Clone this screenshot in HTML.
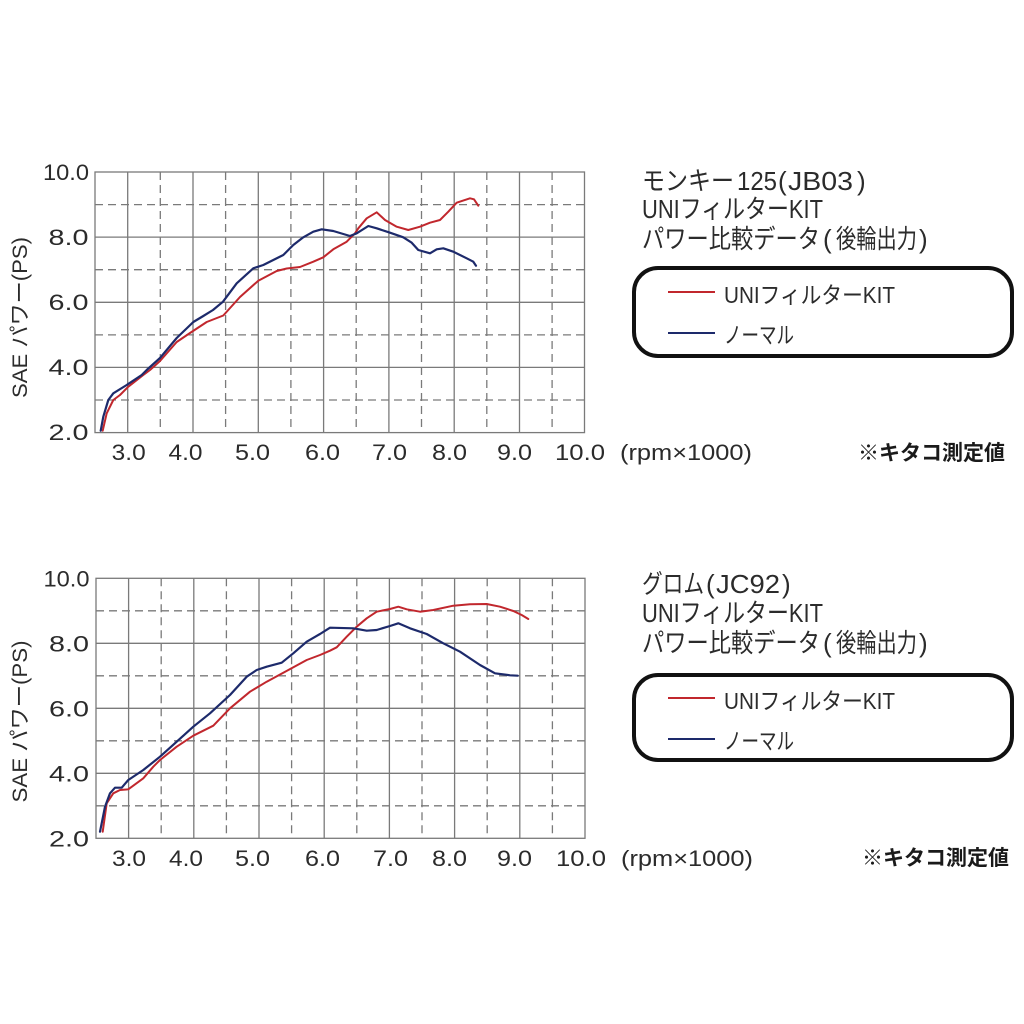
<!DOCTYPE html>
<html><head><meta charset="utf-8"><style>
html,body{margin:0;padding:0;background:#fff;}
svg{display:block;}
text{font-family:"Liberation Sans","Noto Sans CJK JP",sans-serif;fill:#2b2b2b;}
</style></head><body>
<svg width="1024" height="1024" viewBox="0 0 1024 1024" xmlns="http://www.w3.org/2000/svg">
<rect width="1024" height="1024" fill="#fff"/>

<!-- ===== TOP CHART ===== -->
<g stroke="#7a7a7a" stroke-width="1.3" fill="none">
  <g stroke-dasharray="8,5">
    <line x1="160.3" y1="172" x2="160.3" y2="432.6"/>
    <line x1="225.6" y1="172" x2="225.6" y2="432.6"/>
    <line x1="290.9" y1="172" x2="290.9" y2="432.6"/>
    <line x1="356.2" y1="172" x2="356.2" y2="432.6"/>
    <line x1="421.5" y1="172" x2="421.5" y2="432.6"/>
    <line x1="486.8" y1="172" x2="486.8" y2="432.6"/>
    <line x1="552.1" y1="172" x2="552.1" y2="432.6"/>
    <line x1="95" y1="204.6" x2="584.5" y2="204.6"/>
    <line x1="95" y1="269.7" x2="584.5" y2="269.7"/>
    <line x1="95" y1="334.9" x2="584.5" y2="334.9"/>
    <line x1="95" y1="400" x2="584.5" y2="400"/>
  </g>
  <line x1="127.7" y1="172" x2="127.7" y2="432.6"/>
  <line x1="193" y1="172" x2="193" y2="432.6"/>
  <line x1="258.3" y1="172" x2="258.3" y2="432.6"/>
  <line x1="323.6" y1="172" x2="323.6" y2="432.6"/>
  <line x1="388.9" y1="172" x2="388.9" y2="432.6"/>
  <line x1="454.2" y1="172" x2="454.2" y2="432.6"/>
  <line x1="519.5" y1="172" x2="519.5" y2="432.6"/>
  <line x1="95" y1="237.1" x2="584.5" y2="237.1"/>
  <line x1="95" y1="302.3" x2="584.5" y2="302.3"/>
  <line x1="95" y1="367.4" x2="584.5" y2="367.4"/>
  <rect x="95" y="172" width="489.5" height="260.6"/>
</g>
<polyline fill="none" stroke="#c1272d" stroke-width="2" stroke-linejoin="round" stroke-linecap="round" points="102.7,430.7 106.7,413.3 113.3,400 120,395 128.3,386.7 143.3,375 150,370 160,361 176.7,342 190,333 206.7,322 223.3,315.5 240,297 258.3,280.7 276.7,271 286.7,268.5 300,267 313.3,261.7 323.3,257.3 333.3,249.3 346.7,241.7 355,233.3 358.3,228.3 366.7,218.3 376.7,212.3 385,220 396.7,226.7 408.3,230 420,226.7 430,222.7 440,220 448.3,211.7 456.7,202.7 470,198.3 474,199.3 478.3,205.7"/>
<polyline fill="none" stroke="#1d2a6b" stroke-width="2.2" stroke-linejoin="round" stroke-linecap="round" points="100.7,430.7 103.3,416.7 108.3,400 113.3,393.3 126.7,385 141.7,375 146.7,370 160,358 176.7,338 193.3,322 203.3,316 213,310 223,301.7 236.7,283.3 253.3,268.3 263.3,265 273.3,260 283.3,255 293.3,245 303.3,237.3 313.3,231.7 321.7,229.3 333.3,231 350,236 356.7,233.3 368.3,226 376.7,228.3 390,232.7 403.3,237.3 411.7,242.7 418.3,250 430,253.3 436.7,249.3 443.3,248.3 453.3,251.7 466.7,258.3 473.3,261.7 476,265.7"/>

<g font-size="22" text-anchor="end">
  <text x="89" y="180" textLength="46" lengthAdjust="spacingAndGlyphs">10.0</text>
  <text x="88.5" y="245" textLength="40" lengthAdjust="spacingAndGlyphs">8.0</text>
  <text x="88.5" y="310" textLength="40" lengthAdjust="spacingAndGlyphs">6.0</text>
  <text x="88.5" y="375" textLength="40" lengthAdjust="spacingAndGlyphs">4.0</text>
  <text x="88.5" y="440" textLength="40" lengthAdjust="spacingAndGlyphs">2.0</text>
</g>
<g font-size="22">
  <text x="111.7" y="460" textLength="34" lengthAdjust="spacingAndGlyphs">3.0</text>
  <text x="168.5" y="460" textLength="34" lengthAdjust="spacingAndGlyphs">4.0</text>
  <text x="235" y="460" textLength="35" lengthAdjust="spacingAndGlyphs">5.0</text>
  <text x="305" y="460" textLength="35" lengthAdjust="spacingAndGlyphs">6.0</text>
  <text x="372" y="460" textLength="35" lengthAdjust="spacingAndGlyphs">7.0</text>
  <text x="432" y="460" textLength="35" lengthAdjust="spacingAndGlyphs">8.0</text>
  <text x="497" y="460" textLength="35" lengthAdjust="spacingAndGlyphs">9.0</text>
  <text x="555" y="460" textLength="50" lengthAdjust="spacingAndGlyphs">10.0</text>
  <text x="620" y="460" textLength="132" lengthAdjust="spacingAndGlyphs">(rpm×1000)</text>
</g>
<text transform="translate(27,317.5) rotate(-90)" font-size="21" text-anchor="middle" textLength="161" lengthAdjust="spacingAndGlyphs">SAE パワー(PS)</text>

<g font-size="26">
  <text x="642" y="190" textLength="92" lengthAdjust="spacingAndGlyphs">モンキー</text>
  <text x="737" y="190" textLength="40" lengthAdjust="spacingAndGlyphs">125</text>
  <text x="778" y="190">(</text>
  <text x="788" y="190" textLength="65" lengthAdjust="spacingAndGlyphs">JB03</text>
  <text x="857" y="190">)</text>
  <text x="642" y="218" textLength="181" lengthAdjust="spacingAndGlyphs">UNIフィルターKIT</text>
  <text x="642" y="248" textLength="178" lengthAdjust="spacingAndGlyphs">パワー比較データ</text>
  <text x="823" y="248">(</text>
  <text x="836" y="248" textLength="81" lengthAdjust="spacingAndGlyphs">後輪出力</text>
  <text x="919" y="248">)</text>
</g>
<rect x="634" y="268" width="378" height="88" rx="24" ry="24" fill="none" stroke="#111" stroke-width="4"/>
<line x1="668" y1="292" x2="715" y2="292" stroke="#c1272d" stroke-width="2"/>
<line x1="668" y1="333" x2="715" y2="333" stroke="#1d2a6b" stroke-width="2"/>
<g font-size="23">
  <text x="724" y="303" textLength="171" lengthAdjust="spacingAndGlyphs">UNIフィルターKIT</text>
  <text x="724" y="343" textLength="70" lengthAdjust="spacingAndGlyphs">ノーマル</text>
</g>
<text x="858" y="460" font-size="21" font-weight="bold" style="fill:#1a1a1a" textLength="147" lengthAdjust="spacingAndGlyphs">※キタコ測定値</text>

<!-- ===== BOTTOM CHART ===== -->
<g stroke="#7a7a7a" stroke-width="1.3" fill="none">
  <g stroke-dasharray="8,5">
    <line x1="161.2" y1="578.3" x2="161.2" y2="838.3"/>
    <line x1="226.4" y1="578.3" x2="226.4" y2="838.3"/>
    <line x1="291.6" y1="578.3" x2="291.6" y2="838.3"/>
    <line x1="356.8" y1="578.3" x2="356.8" y2="838.3"/>
    <line x1="422" y1="578.3" x2="422" y2="838.3"/>
    <line x1="487.2" y1="578.3" x2="487.2" y2="838.3"/>
    <line x1="552.4" y1="578.3" x2="552.4" y2="838.3"/>
    <line x1="96" y1="610.8" x2="585" y2="610.8"/>
    <line x1="96" y1="675.8" x2="585" y2="675.8"/>
    <line x1="96" y1="740.8" x2="585" y2="740.8"/>
    <line x1="96" y1="805.8" x2="585" y2="805.8"/>
  </g>
  <line x1="128.6" y1="578.3" x2="128.6" y2="838.3"/>
  <line x1="193.8" y1="578.3" x2="193.8" y2="838.3"/>
  <line x1="259" y1="578.3" x2="259" y2="838.3"/>
  <line x1="324.2" y1="578.3" x2="324.2" y2="838.3"/>
  <line x1="389.4" y1="578.3" x2="389.4" y2="838.3"/>
  <line x1="454.6" y1="578.3" x2="454.6" y2="838.3"/>
  <line x1="519.8" y1="578.3" x2="519.8" y2="838.3"/>
  <line x1="96" y1="643.3" x2="585" y2="643.3"/>
  <line x1="96" y1="708.3" x2="585" y2="708.3"/>
  <line x1="96" y1="773.3" x2="585" y2="773.3"/>
  <rect x="96" y="578.3" width="489" height="260"/>
</g>
<polyline fill="none" stroke="#c1272d" stroke-width="2" stroke-linejoin="round" stroke-linecap="round" points="102.7,831.7 106.7,803.3 113.3,793.3 120,790 128.3,789.3 143.3,778.3 153.3,766.7 160,760 176.7,746.7 193.3,735.7 213.3,725.7 230,708.3 250,691.7 266.7,681.7 283.3,672.7 306.7,660 320,655 330,650.7 336.7,647.3 346.7,636.7 356.7,626.7 366.7,618.3 376.7,611.7 390,609 398.3,606.7 406.7,609.3 420,611.7 433.3,610 453.3,605.7 470,604.3 486.7,604 500,606.7 513.3,611 521.7,615 528.3,619"/>
<polyline fill="none" stroke="#1d2a6b" stroke-width="2.2" stroke-linejoin="round" stroke-linecap="round" points="100,831.7 105,806.7 110,793.3 115,787.7 121.7,787.7 128.3,780 143.3,770 160,756.7 176.7,741.7 193.3,726.7 210,713.3 230,695 246.7,676.7 256.7,670 266.7,666.7 281.7,662.7 293.3,653.3 306.7,641.7 320,634 330,627.7 353.3,628.3 366.7,630.7 376.7,630 390,626 398.3,623.3 410,628.3 426.7,634 443.3,643.3 460,651.7 480,665 495,673.3 510,675.3 517.7,675.7"/>

<g font-size="22" text-anchor="end">
  <text x="89.5" y="586.5" textLength="46" lengthAdjust="spacingAndGlyphs">10.0</text>
  <text x="89" y="651.5" textLength="40" lengthAdjust="spacingAndGlyphs">8.0</text>
  <text x="89" y="716.5" textLength="40" lengthAdjust="spacingAndGlyphs">6.0</text>
  <text x="89" y="781.5" textLength="40" lengthAdjust="spacingAndGlyphs">4.0</text>
  <text x="89" y="846.5" textLength="40" lengthAdjust="spacingAndGlyphs">2.0</text>
</g>
<g font-size="22">
  <text x="112" y="866" textLength="34" lengthAdjust="spacingAndGlyphs">3.0</text>
  <text x="169" y="866" textLength="34" lengthAdjust="spacingAndGlyphs">4.0</text>
  <text x="235" y="866" textLength="35" lengthAdjust="spacingAndGlyphs">5.0</text>
  <text x="305" y="866" textLength="35" lengthAdjust="spacingAndGlyphs">6.0</text>
  <text x="373" y="866" textLength="35" lengthAdjust="spacingAndGlyphs">7.0</text>
  <text x="432" y="866" textLength="35" lengthAdjust="spacingAndGlyphs">8.0</text>
  <text x="497" y="866" textLength="35" lengthAdjust="spacingAndGlyphs">9.0</text>
  <text x="556" y="866" textLength="50" lengthAdjust="spacingAndGlyphs">10.0</text>
  <text x="621" y="866" textLength="132" lengthAdjust="spacingAndGlyphs">(rpm×1000)</text>
</g>
<text transform="translate(27,721.5) rotate(-90)" font-size="21" text-anchor="middle" textLength="162" lengthAdjust="spacingAndGlyphs">SAE パワー(PS)</text>

<g font-size="26">
  <text x="642" y="593" textLength="62" lengthAdjust="spacingAndGlyphs">グロム</text>
  <text x="706" y="593">(</text>
  <text x="716" y="593" textLength="64" lengthAdjust="spacingAndGlyphs">JC92</text>
  <text x="782" y="593">)</text>
  <text x="642" y="622" textLength="181" lengthAdjust="spacingAndGlyphs">UNIフィルターKIT</text>
  <text x="642" y="652" textLength="178" lengthAdjust="spacingAndGlyphs">パワー比較データ</text>
  <text x="823" y="652">(</text>
  <text x="836" y="652" textLength="81" lengthAdjust="spacingAndGlyphs">後輪出力</text>
  <text x="919" y="652">)</text>
</g>
<rect x="634" y="675" width="378" height="85" rx="24" ry="24" fill="none" stroke="#111" stroke-width="4"/>
<line x1="668" y1="698" x2="715" y2="698" stroke="#c1272d" stroke-width="2"/>
<line x1="668" y1="739" x2="715" y2="739" stroke="#1d2a6b" stroke-width="2"/>
<g font-size="23">
  <text x="724" y="709" textLength="171" lengthAdjust="spacingAndGlyphs">UNIフィルターKIT</text>
  <text x="724" y="749" textLength="70" lengthAdjust="spacingAndGlyphs">ノーマル</text>
</g>
<text x="862" y="865" font-size="21" font-weight="bold" style="fill:#1a1a1a" textLength="147" lengthAdjust="spacingAndGlyphs">※キタコ測定値</text>
</svg>
</body></html>
